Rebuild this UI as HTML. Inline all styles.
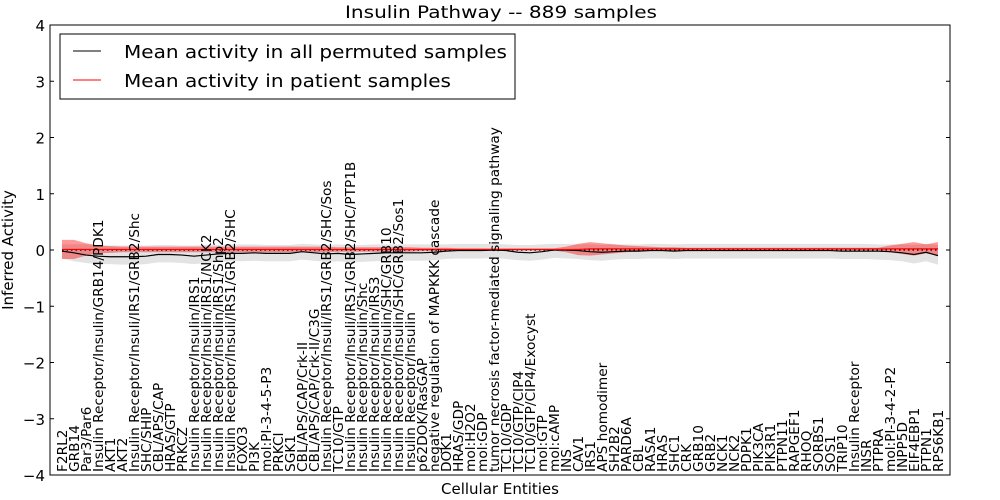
<!DOCTYPE html>
<html><head><meta charset="utf-8"><style>
body{margin:0;background:#fff;}
svg{display:block;font-family:"DejaVu Sans","Liberation Sans",sans-serif;}
</style></head><body>
<svg id="chart" width="1000" height="500" viewBox="0 0 1000 500">
<rect x="0" y="0" width="1000" height="500" fill="#fff"/>
<text x="345" y="18" textLength="312" lengthAdjust="spacingAndGlyphs" font-size="17">Insulin Pathway -- 889 samples</text>
<g id="bands"></g>
<g id="lines"></g>
<g id="xlabels"></g>
<rect x="50" y="25" width="900" height="450" fill="none" stroke="#000" stroke-width="1"/>
<g id="yticks"></g>
<text transform="translate(13,250) rotate(-90)" text-anchor="middle" font-size="15">Inferred Activity</text>
<text x="500" y="494" text-anchor="middle" font-size="15">Cellular Entities</text>
<g>
<rect x="60" y="34" width="455" height="65" fill="#fff" stroke="#000" stroke-width="1"/>
<line x1="73" y1="51" x2="101" y2="51" stroke="#000" stroke-width="1"/>
<text x="124" y="58" font-size="18" textLength="383" lengthAdjust="spacingAndGlyphs">Mean activity in all permuted samples</text>
<line x1="73" y1="80" x2="101" y2="80" stroke="#f00" stroke-width="1"/>
<text x="124" y="87" font-size="18" textLength="327" lengthAdjust="spacingAndGlyphs">Mean activity in patient samples</text>
</g>
</svg>
<script>
const categories=["F2RL2","GRB14","Par3/Par6","Insulin Receptor/Insulin/GRB14/PDK1","AKT1","AKT2","Insulin Receptor/Insuli/IRS1/GRB2/Shc","SHC/SHIP","CBL/APS/CAP","HRAS/GTP","PRKCZ","Insulin Receptor/Insulin/IRS1","Insulin Receptor/Insulin/IRS1/NCK2","Insulin Receptor/Insulin/IRS1/Shp2","Insulin Receptor/Insuli/IRS1/GRB2/SHC","FOXO3","PI3K","mol:PI-3-4-5-P3","PRKCI","SGK1","CBL/APS/CAP/Crk-II","CBL/APS/CAP/Crk-II/C3G","Insulin Receptor/Insuli/IRS1/GRB2/SHC/Sos","TC10/GTP","Insulin Receptor/Insuli/IRS1/GRB2/SHC/PTP1B","Insulin Receptor/Insulin/Shc","Insulin Receptor/Insulin/IRS3","Insulin Receptor/Insulin/SHC/GRB10","Insulin Receptor/Insulin/SHC/GRB2/Sos1","Insulin Receptor/Insulin","p62DOK/RasGAP","negative regulation of MAPKKK cascade","DOK1","HRAS/GDP","mol:H2O2","mol:GDP","tumor necrosis factor-mediated signaling pathway","TC10/GDP","TC10/GTP/CIP4","TC10/GTP/CIP4/Exocyst","mol:GTP","mol:cAMP","INS","CAV1","IRS1","APS homodimer","SH2B2","PARD6A","CBL","RASA1","HRAS","SHC1","CRK","GRB10","GRB2","NCK1","NCK2","PDPK1","PIK3CA","PIK3R1","PTPN11","RAPGEF1","RHOQ","SORBS1","SOS1","TRIP10","Insulin Receptor","INSR","PTPRA","mol:PI-3-4-2-P2","INPP5D","EIF4EBP1","PTPN1","RPS6KB1"];
const permutedMean=[-0.02,-0.05,-0.09,-0.11,-0.12,-0.12,-0.12,-0.11,-0.08,-0.08,-0.09,-0.11,-0.09,-0.07,-0.06,-0.06,-0.05,-0.06,-0.06,-0.06,-0.03,-0.05,-0.07,-0.06,-0.08,-0.07,-0.06,-0.05,-0.05,-0.05,-0.05,-0.04,-0.02,-0.01,-0.01,-0.01,0,-0.01,-0.04,-0.05,-0.03,0,0,-0.01,-0.03,-0.04,-0.03,-0.02,-0.02,-0.01,-0.01,-0.02,-0.01,-0.01,-0.01,-0.01,-0.01,-0.01,-0.01,-0.01,-0.01,-0.01,-0.01,-0.01,-0.01,-0.02,-0.02,-0.02,-0.02,-0.03,-0.05,-0.08,-0.04,-0.1];
const permutedUpper=[0.1,0.1,0.1,0.09,0.08,0.08,0.08,0.08,0.09,0.09,0.08,0.08,0.09,0.09,0.1,0.1,0.1,0.09,0.09,0.09,0.11,0.1,0.09,0.1,0.09,0.09,0.1,0.1,0.1,0.1,0.1,0.1,0.1,0.11,0.11,0.11,0.11,0.1,0.09,0.09,0.1,0.11,0.11,0.1,0.1,0.09,0.1,0.1,0.1,0.11,0.11,0.1,0.11,0.11,0.11,0.11,0.11,0.11,0.11,0.11,0.11,0.11,0.11,0.11,0.11,0.11,0.11,0.11,0.1,0.1,0.1,0.09,0.11,0.09];
const permutedLower=[-0.15,-0.2,-0.23,-0.25,-0.25,-0.26,-0.26,-0.25,-0.22,-0.22,-0.23,-0.25,-0.23,-0.21,-0.2,-0.2,-0.19,-0.2,-0.2,-0.2,-0.17,-0.19,-0.21,-0.2,-0.22,-0.21,-0.2,-0.19,-0.19,-0.19,-0.19,-0.18,-0.16,-0.15,-0.15,-0.15,-0.14,-0.16,-0.18,-0.19,-0.17,-0.14,-0.15,-0.16,-0.18,-0.19,-0.17,-0.16,-0.16,-0.15,-0.15,-0.16,-0.15,-0.15,-0.15,-0.15,-0.15,-0.15,-0.15,-0.15,-0.15,-0.15,-0.15,-0.15,-0.15,-0.16,-0.16,-0.16,-0.17,-0.18,-0.2,-0.24,-0.2,-0.26];
const patientMean=[0.01,0.01,0.01,0.01,0.01,0.01,0.01,0.01,0.01,0.01,0.01,0.01,0.01,0.01,0.01,0.01,0.01,0.01,0.01,0.01,0.01,0.01,0.01,0.01,0.01,0.01,0.01,0.01,0.01,0.01,0.01,0.01,0.01,0.01,0.01,0.01,0.01,0.01,0.01,0.01,0.01,0.01,0.01,0.01,0.02,0.02,0.02,0.02,0.02,0.02,0.02,0.02,0.02,0.02,0.02,0.02,0.02,0.02,0.02,0.02,0.02,0.02,0.02,0.02,0.02,0.02,0.02,0.02,0.02,0.02,0.02,0.02,0.02,0.02];
const patientSpread=[0.17,0.17,0.11,0.07,0.06,0.05,0.05,0.05,0.05,0.05,0.05,0.05,0.05,0.05,0.05,0.05,0.05,0.05,0.05,0.05,0.05,0.05,0.05,0.04,0.04,0.04,0.04,0.04,0.04,0.04,0.03,0.03,0.03,0.02,0.02,0.02,0.02,0.02,0.02,0.02,0.02,0.02,0.05,0.1,0.12,0.1,0.08,0.06,0.05,0.04,0.03,0.03,0.02,0.02,0.02,0.02,0.02,0.02,0.02,0.02,0.02,0.02,0.02,0.02,0.02,0.02,0.02,0.02,0.02,0.06,0.09,0.12,0.08,0.12];
const yTicks=[4,3,2,1,0,-1,-2,-3,-4];
const yTickLabels=["4","3","2","1","0","\u22121","\u22122","\u22123","\u22124"];

const NS="http://www.w3.org/2000/svg";
const X0=50,X1=950,Y0=25,Y1=475;
function xs(i){return X0+(i+1)*(X1-X0)/(categories.length+1);}
function ys(v){return Y1-(v+4)/8*(Y1-Y0);}
function mk(tag,attrs,parent){const e=document.createElementNS(NS,tag);for(const k in attrs)e.setAttribute(k,attrs[k]);parent.appendChild(e);return e;}
function bandPath(up,lo){let d="";up.forEach((v,i)=>{d+=(i?"L":"M")+xs(i)+","+ys(v);});for(let i=lo.length-1;i>=0;i--)d+="L"+xs(i)+","+ys(lo[i]);return d+"Z";}
function linePath(a){return a.map((v,i)=>(i?"L":"M")+xs(i)+","+ys(v)).join("");}

const bands=document.getElementById('bands');
const gb=mk('path',{d:bandPath(permutedUpper,permutedLower),fill:'#b0b0b0','fill-opacity':'0.35',stroke:'none'},bands);


const pu=patientMean.map((v,i)=>v+patientSpread[i]);
const pl=patientMean.map((v,i)=>v-patientSpread[i]);
const rb=mk('path',{d:bandPath(pu,pl),fill:'#f00','fill-opacity':'0.4',stroke:'none'},bands);



const lines=document.getElementById('lines');
const zl=mk('line',{x1:xs(0),x2:xs(categories.length-1),y1:ys(0),y2:ys(0),stroke:'#000','stroke-dasharray':'1.5,3','stroke-width':'1.2'},lines);


const bl=mk('path',{d:linePath(permutedMean),fill:'none',stroke:'#000','stroke-width':'1.2'},lines);


const rl=mk('path',{d:linePath(patientMean),fill:'none',stroke:'#f00','stroke-width':'1.2'},lines);



const xl=document.getElementById('xlabels');
categories.forEach((c,i)=>{
  const t=mk('text',{transform:'translate('+(xs(i)+5)+',472) rotate(-90)','font-size':'13.7'},xl);
  t.textContent=c;
  
  
});
const yt=document.getElementById('yticks');
yTicks.forEach((v,i)=>{
  const y=ys(v);
  const a=mk('line',{x1:X0,x2:X0+4,y1:y,y2:y,stroke:'#000'},yt);
  
  
  const b=mk('line',{x1:X1,x2:X1-4,y1:y,y2:y,stroke:'#000'},yt);
  
  
  const t=mk('text',{x:X0-5,y:y+6,'text-anchor':'end','font-size':'15'},yt);
  t.textContent=yTickLabels[i];
  
  
});
</script>
</body></html>
